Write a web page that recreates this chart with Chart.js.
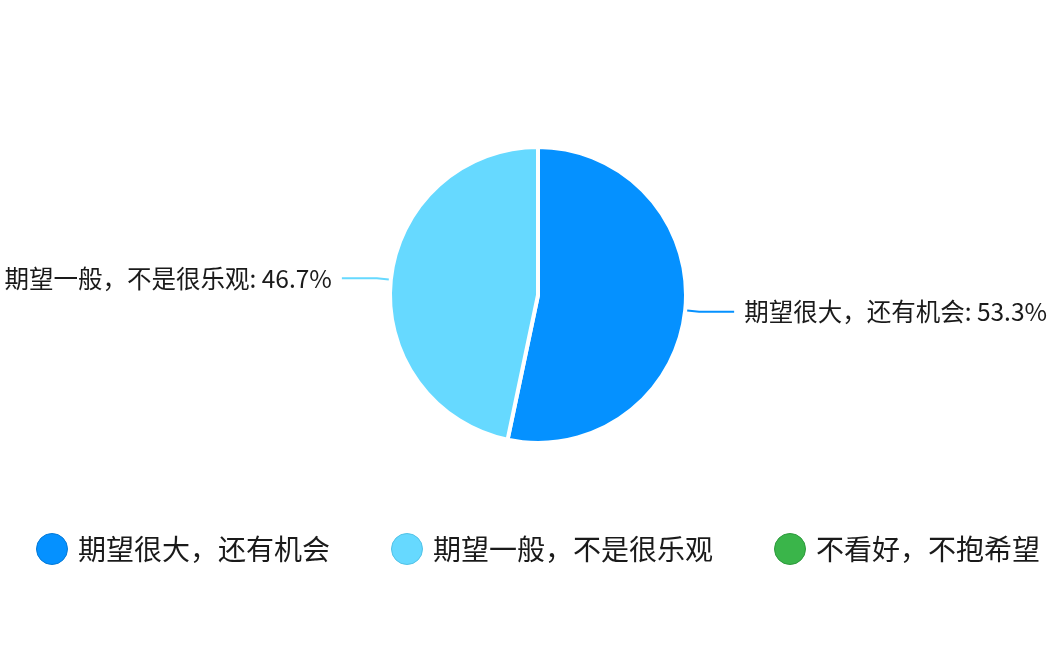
<!DOCTYPE html>
<html><head><meta charset="utf-8">
<script src="https://cdn.jsdelivr.net/npm/chart.js@4"></script>
<style>html,body{margin:0;padding:0;background:#fff;}#wrap{width:1056px;height:656px;}</style>
</head><body><div id="wrap"><canvas id="c" width="1056" height="656"></canvas></div>
<script>
const categories = ['期望很大，还有机会', '期望一般，不是很乐观', '不看好，不抱希望'];
const values = [53.3, 46.7, 0];
const colors = ['#0591FF', '#66D9FF', '#3AB54A'];
const edgeColors = ['#0479D6', '#52C2E6', '#2E9A3D'];

const FONT = '"Noto Sans CJK SC", "Noto Sans", sans-serif';

const labelPlugin = {
  id: 'outLabels',
  afterDatasetsDraw(chart) {
    const ctx = chart.ctx;
    const meta = chart.getDatasetMeta(0);
    meta.data.forEach((arc, i) => {
      const v = values[i];
      if (!v) return;
      const p = arc.getProps(['x', 'y', 'startAngle', 'endAngle', 'outerRadius'], true);
      const mid = (p.startAngle + p.endAngle) / 2;
      const cos = Math.cos(mid), sin = Math.sin(mid);
      const x1 = p.x + (p.outerRadius + 2) * cos, y1 = p.y + (p.outerRadius + 2) * sin;
      const x2 = p.x + (p.outerRadius + 14) * cos, y2 = p.y + (p.outerRadius + 14) * sin;
      const right = cos >= 0;
      const x3 = x2 + (right ? 35 : -35);
      ctx.save();
      ctx.strokeStyle = colors[i];
      ctx.lineWidth = 2;
      ctx.beginPath();
      ctx.moveTo(x1, y1); ctx.lineTo(x2, y2); ctx.lineTo(x3, y2);
      ctx.stroke();
      ctx.fillStyle = '#1a1a1a';
      ctx.font = '24.5px ' + FONT;
      ctx.textBaseline = 'middle';
      ctx.textAlign = right ? 'left' : 'right';
      ctx.fillText(categories[i] + ': ' + v.toFixed(1) + '%', x3 + (right ? 10 : -10), y2);
      ctx.restore();
    });
  }
};

const legendPlugin = {
  id: 'bottomLegend',
  afterDraw(chart) {
    const ctx = chart.ctx;
    ctx.save();
    ctx.font = '28px ' + FONT;
    ctx.textBaseline = 'middle';
    ctx.textAlign = 'left';
    const r = 16, gapText = 10, gapItem = 61;
    const widths = categories.map(t => ctx.measureText(t).width);
    const total = widths.reduce((a, w) => a + 2 * r + gapText + w, 0) + gapItem * (categories.length - 1);
    const cx = (chart.chartArea.left + chart.chartArea.right) / 2;
    let x = cx - total / 2;
    const y = 549;
    categories.forEach((t, i) => {
      ctx.fillStyle = colors[i];
      ctx.strokeStyle = edgeColors[i];
      ctx.lineWidth = 1;
      ctx.beginPath();
      ctx.arc(x + r, y, r - 0.5, 0, Math.PI * 2);
      ctx.fill();
      ctx.stroke();
      ctx.fillStyle = '#1a1a1a';
      ctx.fillText(t, x + 2 * r + gapText, y);
      x += 2 * r + gapText + widths[i] + gapItem;
    });
    ctx.restore();
  }
};

new Chart(document.getElementById('c'), {
  type: 'pie',
  data: {
    labels: categories,
    datasets: [{
      data: values,
      backgroundColor: colors,
      borderColor: '#ffffff',
      borderWidth: 4,
      radius: 148
    }]
  },
  options: {
    responsive: false,
    animation: false,
    layout: { padding: { top: 147, bottom: 213, left: 20, right: 0 } },
    plugins: {
      tooltip: { enabled: false },
      legend: { display: false }
    }
  },
  plugins: [labelPlugin, legendPlugin]
});
</script>
</body></html>
